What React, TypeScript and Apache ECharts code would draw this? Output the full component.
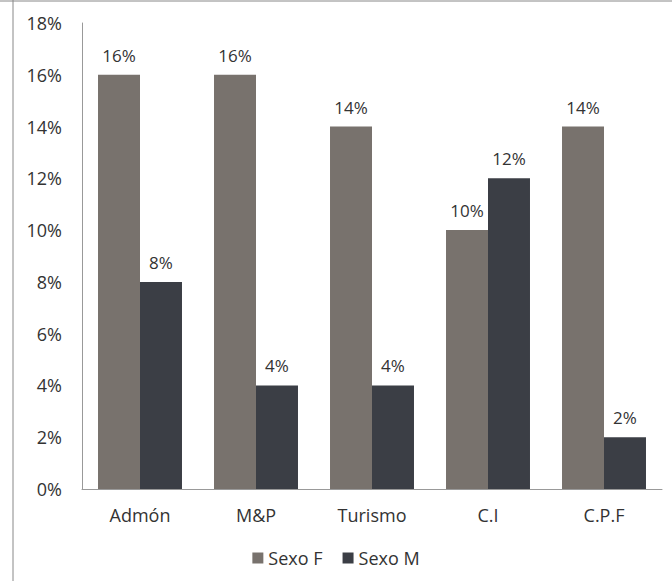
import React, { useEffect, useRef } from "react";
import * as echarts from "echarts";

const categories = ["Admón", "M&P", "Turismo", "C.I", "C.P.F"];
const sexoF = [16, 16, 14, 10, 14];
const sexoM = [8, 4, 4, 12, 2];
const yTicks = [0, 2, 4, 6, 8, 10, 12, 14, 16, 18];

export default function App() {
  const ref = useRef<HTMLDivElement>(null);
  useEffect(() => {
    if (!ref.current) return;
    const chart = echarts.init(ref.current, undefined, { renderer: "svg" });
    const font = "Open Sans";
    const label = {
      show: true,
      position: "top" as const,
      distance: 11,
      formatter: "{c}%",
      color: "#333",
      fontSize: 17,
      fontFamily: font,
    };
    chart.setOption({
      animation: false,
      backgroundColor: "#fff",
      grid: { left: 82, right: 10, top: 23, bottom: 92, containLabel: false },
      legend: {
        bottom: 9,
        left: "center",
        itemWidth: 11,
        itemHeight: 11,
        itemGap: 20,
        icon: "rect",
        textStyle: { color: "#333", fontSize: 18, fontFamily: font },
        data: ["Sexo F", "Sexo M"],
      },
      xAxis: {
        type: "category",
        data: categories,
        axisLine: { lineStyle: { color: "#999" } },
        axisTick: { show: false },
        axisLabel: { color: "#333", fontSize: 18, fontFamily: font, margin: 17 },
      },
      yAxis: {
        type: "value",
        min: yTicks[0],
        max: yTicks[yTicks.length - 1],
        interval: 2,
        axisLine: { show: true, lineStyle: { color: "#999" } },
        axisTick: { show: false },
        splitLine: { show: false },
        axisLabel: { color: "#333", fontSize: 18, fontFamily: font, margin: 20, formatter: "{value}%" },
      },
      series: [
        {
          name: "Sexo F",
          type: "bar",
          data: sexoF,
          barGap: "0%",
          barCategoryGap: "27.6%",
          itemStyle: { color: "#78726d" },
          label,
        },
        {
          name: "Sexo M",
          type: "bar",
          data: sexoM,
          itemStyle: { color: "#3b3e45" },
          label,
        },
      ],
      graphic: [
        { type: "line", shape: { x1: 13, y1: 0, x2: 13, y2: 581 }, style: { stroke: "#888", lineWidth: 1 } },
        { type: "line", shape: { x1: 0, y1: 1, x2: 672, y2: 1 }, style: { stroke: "#888", lineWidth: 1 } },
      ],
    });
    return () => chart.dispose();
  }, []);
  return <div ref={ref} style={{ width: 672, height: 581, position: "absolute", left: 0, top: 0 }} />;
}
